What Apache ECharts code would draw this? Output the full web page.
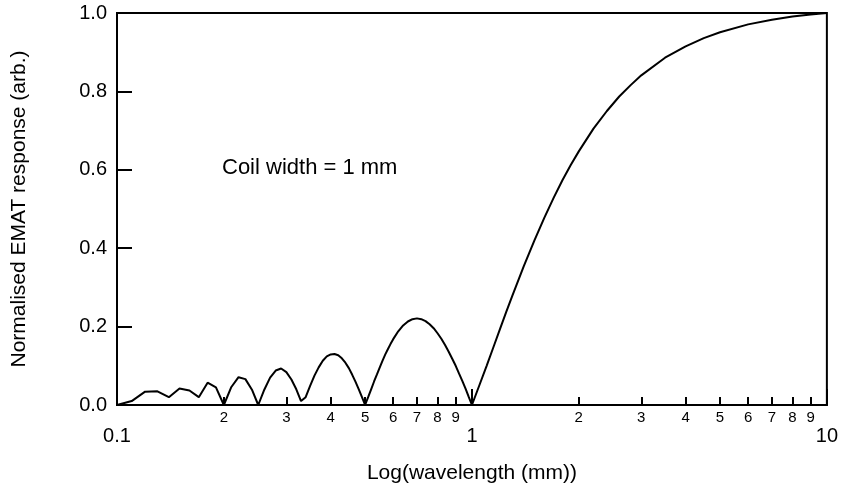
<!DOCTYPE html>
<html>
<head>
<meta charset="utf-8">
<script src="https://cdn.jsdelivr.net/npm/echarts@6/dist/echarts.min.js"></script>
<style>
  html, body { margin: 0; padding: 0; background: #ffffff; }
  #chart { width: 841px; height: 489px; }
</style>
</head>
<body>
<div id="chart"></div>
<script>
// Wavelength (mm) and normalised EMAT response
const wavelength = [
  0.10, 0.11, 0.12, 0.13, 0.14, 0.15, 0.16, 0.17, 0.18, 0.19,
  0.20, 0.21, 0.22, 0.23, 0.24, 0.25, 0.26, 0.27, 0.28, 0.29,
  0.30, 0.31, 0.32, 0.33, 0.34, 0.35, 0.36, 0.37, 0.38, 0.39,
  0.40, 0.41, 0.42, 0.43, 0.44, 0.45, 0.46, 0.47, 0.48, 0.49,
  0.50, 0.51, 0.52, 0.53, 0.54, 0.55, 0.56, 0.57, 0.58, 0.59,
  0.60, 0.62, 0.64, 0.66, 0.68, 0.70, 0.72, 0.74, 0.76, 0.78,
  0.80, 0.82, 0.84, 0.86, 0.88, 0.90, 0.92, 0.94, 0.96, 0.98,
  1.00, 1.05, 1.10, 1.15, 1.20, 1.25, 1.30, 1.40, 1.50, 1.60,
  1.70, 1.80, 1.90, 2.00, 2.20, 2.40, 2.60, 2.80, 3.00, 3.50,
  4.00, 4.50, 5.00, 6.00, 7.00, 8.00, 9.00, 10.0
];
const response = [
  0.000, 0.010, 0.034, 0.035, 0.020, 0.042, 0.037, 0.020, 0.057, 0.045,
  0.000, 0.046, 0.071, 0.066, 0.039, 0.000, 0.039, 0.070, 0.088, 0.093,
  0.084, 0.065, 0.040, 0.010, 0.020, 0.049, 0.075, 0.096, 0.113, 0.124,
  0.129, 0.130, 0.127, 0.119, 0.108, 0.094, 0.077, 0.059, 0.040, 0.020,
  0.000, 0.020, 0.040, 0.060, 0.078, 0.096, 0.113, 0.129, 0.143, 0.156,
  0.168, 0.188, 0.203, 0.213, 0.219, 0.221, 0.219, 0.214, 0.206, 0.196,
  0.183, 0.169, 0.153, 0.136, 0.118, 0.100, 0.080, 0.061, 0.041, 0.020,
  0.000, 0.051, 0.100, 0.148, 0.194, 0.238, 0.279, 0.354, 0.420, 0.478,
  0.529, 0.574, 0.613, 0.647, 0.705, 0.750, 0.787, 0.816, 0.841, 0.886,
  0.915, 0.936, 0.951, 0.971, 0.983, 0.991, 0.996, 1.000
];

// Decade labels and the 2..9 subdivisions on the log axis
const majorTicks = [0.1, 1, 10];
const minorTicks = [0.2, 0.3, 0.4, 0.5, 0.6, 0.7, 0.8, 0.9, 2, 3, 4, 5, 6, 7, 8, 9];

const annotation = 'Coil width = 1 mm';
const xTitle = 'Log(wavelength (mm))';
const yTitle = 'Normalised EMAT response (arb.)';

const FONT = 'Liberation Sans';
const chart = echarts.init(document.getElementById('chart'), null, { renderer: 'canvas' });

const logAxisBase = {
  type: 'log',
  logBase: 10,
  min: 0.1,
  max: 10,
  gridIndex: 0,
  position: 'bottom',
  splitLine: { show: false },
  minorTick: { show: false },
  minorSplitLine: { show: false }
};

chart.setOption({
  animation: false,
  backgroundColor: '#ffffff',
  grid: {
    left: 117, right: 14, top: 13, bottom: 84,
    show: true, borderColor: '#000', borderWidth: 2, backgroundColor: 'transparent'
  },
  xAxis: [
    Object.assign({}, logAxisBase, {
      name: xTitle,
      nameLocation: 'middle',
      nameGap: 58,
      nameTextStyle: { fontFamily: FONT, fontSize: 21, color: '#000' },
      axisLine: { show: true, lineStyle: { color: '#000', width: 2 } },
      axisTick: { show: true, inside: true, length: 16, customValues: majorTicks, lineStyle: { color: '#000', width: 2 } },
      axisLabel: {
        customValues: majorTicks,
        margin: 21,
        fontFamily: FONT, fontSize: 20, color: '#000',
        formatter: v => String(Number(v.toPrecision(6)))
      }
    }),
    Object.assign({}, logAxisBase, {
      axisLine: { show: false },
      axisTick: { show: true, inside: true, length: 8, customValues: minorTicks, lineStyle: { color: '#000', width: 2 } },
      axisLabel: {
        customValues: minorTicks,
        margin: 5,
        fontFamily: FONT, fontSize: 15, color: '#000',
        formatter: v => String(Math.round(v / Math.pow(10, Math.floor(Math.log10(v) + 1e-9))))
      }
    })
  ],
  yAxis: {
    type: 'value',
    min: 0,
    max: 1,
    interval: 0.2,
    name: yTitle,
    nameLocation: 'middle',
    nameGap: 87,
    nameTextStyle: { fontFamily: FONT, fontSize: 21, color: '#000' },
    splitLine: { show: false },
    axisLine: { show: true, lineStyle: { color: '#000', width: 2 } },
    axisTick: { show: true, inside: true, length: 15, lineStyle: { color: '#000', width: 2 } },
    axisLabel: {
      margin: 10,
      fontFamily: FONT, fontSize: 20, color: '#000',
      formatter: v => v.toFixed(1)
    }
  },
  graphic: [{
    type: 'text',
    left: 222,
    top: 157,
    style: { text: annotation, font: '22px "Liberation Sans"', fill: '#000' }
  }],
  series: [{
    type: 'line',
    xAxisIndex: 0,
    yAxisIndex: 0,
    data: wavelength.map((w, i) => [w, response[i]]),
    showSymbol: false,
    smooth: false,
    clip: false,
    lineStyle: { color: '#000', width: 2 },
    z: 3
  }]
});
</script>
</body>
</html>
